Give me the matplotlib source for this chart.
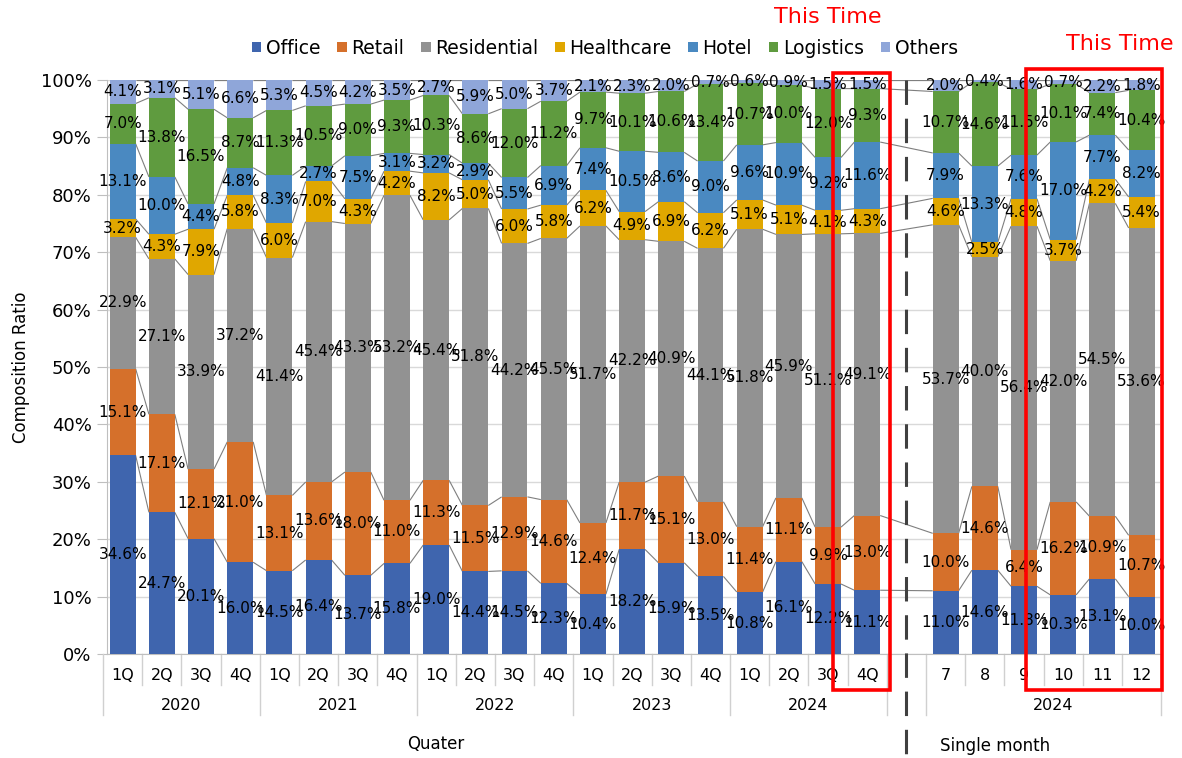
import matplotlib
matplotlib.use('Agg')
import matplotlib.pyplot as plt
import numpy as np
from matplotlib.patches import Rectangle
import matplotlib.transforms as mtrans

# ---------------- data ----------------
quarters = ['1Q', '2Q', '3Q', '4Q'] * 5
quarter_years = ['2020', '2021', '2022', '2023', '2024']
months = ['7', '8', '9', '10', '11', '12']
month_year = '2024'
series_names = ['Office', 'Retail', 'Residential', 'Healthcare', 'Hotel', 'Logistics', 'Others']
series_colors = ['#3F65AE', '#D5702B', '#929292', '#E0A700', '#4A89C1', '#5F9B3F', '#8FA6D9']

# quarterly values (2020 1Q ... 2024 4Q)
office_q = [34.6, 24.7, 20.1, 16.0, 14.5, 16.4, 13.7, 15.8, 19.0, 14.4, 14.5, 12.3, 10.4, 18.2, 15.9, 13.5, 10.8, 16.1, 12.2, 11.1]
retail_q = [15.1, 17.1, 12.1, 21.0, 13.1, 13.6, 18.0, 11.0, 11.3, 11.5, 12.9, 14.6, 12.4, 11.7, 15.1, 13.0, 11.4, 11.1, 9.9, 13.0]
residential_q = [22.9, 27.1, 33.9, 37.2, 41.4, 45.4, 43.3, 53.2, 45.4, 51.8, 44.2, 45.5, 51.7, 42.2, 40.9, 44.1, 51.8, 45.9, 51.1, 49.1]
healthcare_q = [3.2, 4.3, 7.9, 5.8, 6.0, 7.0, 4.3, 4.2, 8.2, 5.0, 6.0, 5.8, 6.2, 4.9, 6.9, 6.2, 5.1, 5.1, 4.1, 4.3]
hotel_q = [13.1, 10.0, 4.4, 4.8, 8.3, 2.7, 7.5, 3.1, 3.2, 2.9, 5.5, 6.9, 7.4, 10.5, 8.6, 9.0, 9.6, 10.9, 9.2, 11.6]
logistics_q = [7.0, 13.8, 16.5, 8.7, 11.3, 10.5, 9.0, 9.3, 10.3, 8.6, 12.0, 11.2, 9.7, 10.1, 10.6, 13.4, 10.7, 10.0, 12.0, 9.3]
others_q = [4.1, 3.1, 5.1, 6.6, 5.3, 4.5, 4.2, 3.5, 2.7, 5.9, 5.0, 3.7, 2.1, 2.3, 2.0, 0.7, 0.6, 0.9, 1.5, 1.5]

# single month values (2024 Jul ... Dec)
office_m = [11.0, 14.6, 11.8, 10.3, 13.1, 10.0]
retail_m = [10.0, 14.6, 6.4, 16.2, 10.9, 10.7]
residential_m = [53.7, 40.0, 56.4, 42.0, 54.5, 53.6]
healthcare_m = [4.6, 2.5, 4.8, 3.7, 4.2, 5.4]
hotel_m = [7.9, 13.3, 7.6, 17.0, 7.7, 8.2]
logistics_m = [10.7, 14.6, 11.5, 10.1, 7.4, 10.4]
others_m = [2.0, 0.4, 1.6, 0.7, 2.2, 1.8]

# ---------------- build ----------------
values = np.array([
    office_q + office_m,
    retail_q + retail_m,
    residential_q + residential_m,
    healthcare_q + healthcare_m,
    hotel_q + hotel_m,
    logistics_q + logistics_m,
    others_q + others_m,
], dtype=float)
heights = values / values.sum(axis=0) * 100.0

nq = len(quarters)
nm = len(months)
xpos = np.concatenate([np.arange(nq), np.arange(nm) + nq + 1]).astype(float)
gap_x = nq  # empty slot holding the dashed divider

W, H = 1182, 758
fig = plt.figure(figsize=(W / 100, H / 100), dpi=100)
ax_l, ax_r, ax_t, ax_b = 107, 1160, 80, 654
ax = fig.add_axes([ax_l / W, 1 - ax_b / H, (ax_r - ax_l) / W, (ax_b - ax_t) / H])

bw = 0.66
bottoms = np.zeros(heights.shape[1])
handles = []
for k, name in enumerate(series_names):
    bc = ax.bar(xpos, heights[k], bw, bottom=bottoms, color=series_colors[k],
                label=name, zorder=3, linewidth=0)
    handles.append(bc)
    for i, x in enumerate(xpos):
        ax.text(x, bottoms[i] + heights[k][i] / 2, f'{values[k][i]:.1f}%',
                ha='center', va='center', fontsize=11, color='black', zorder=6)
    bottoms = bottoms + heights[k]
    # series lines between adjacent bars
    for i in range(len(xpos) - 1):
        ax.plot([xpos[i] + bw / 2, xpos[i + 1] - bw / 2], [bottoms[i], bottoms[i + 1]],
                color='#7f7f7f', lw=0.8, zorder=2, solid_capstyle='butt')

ax.set_xlim(-0.4, 26.47)
ax.set_ylim(0, 100)
ax.set_yticks(np.arange(0, 101, 10))
ax.set_yticklabels([f'{v}%' for v in range(0, 101, 10)], fontsize=13)
ax.yaxis.grid(True, color='#d9d9d9', lw=1, zorder=0)
ax.set_axisbelow(True)
ax.tick_params(axis='y', length=7, color='#bfbfbf', pad=4)
ax.set_xticks([])
for s in ['top', 'right']:
    ax.spines[s].set_visible(False)
ax.spines['left'].set_color('#bfbfbf')
ax.spines['bottom'].set_color('#bfbfbf')
ax.set_ylabel('Composition Ratio', fontsize=12, labelpad=8)

# two-level category axis
tr = mtrans.blended_transform_factory(ax.transData, ax.transAxes)
axh = ax_b - ax_t
def ay(px):
    return (ax_b - px) / axh

for i, x in enumerate(xpos):
    lab = quarters[i] if i < nq else months[i - nq]
    ax.text(x, ay(675), lab, transform=tr, ha='center', va='center', fontsize=11.5, clip_on=False)
for j, yr in enumerate(quarter_years):
    ax.text(4 * j + 1.5, ay(705), yr, transform=tr, ha='center', va='center', fontsize=11.5)
ax.text(nq + 1 + (nm - 1) / 2 + 0.25, ay(705), month_year, transform=tr, ha='center', va='center', fontsize=11.5)

long_edges = [-0.5, 3.5, 7.5, 11.5, 15.5, 19.5, 20.5, 26.5]
short_edges = [e + 0.5 for e in range(0, 19) if (e + 0.5) not in long_edges] + \
              [e + 0.5 for e in range(21, 26)]
for e in long_edges:
    ax.plot([e, e], [0, ay(715)], transform=tr, color='#d0d0d0', lw=1, clip_on=False)
for e in short_edges:
    ax.plot([e, e], [0, ay(685)], transform=tr, color='#d0d0d0', lw=1, clip_on=False)

ax.text(8.0, ay(744), 'Quater', transform=tr, ha='center', va='center', fontsize=12)
ax.text(22.26, ay(746), 'Single month', transform=tr, ha='center', va='center', fontsize=12)

# dashed divider
ax.plot([gap_x, gap_x], [1.0, ay(755)], transform=tr, color='#404040', lw=2.2,
        dashes=(8, 4.5), clip_on=False, zorder=7)

# highlight boxes
ax.add_patch(Rectangle((18.12, ay(690)), 19.58 - 18.12, ay(73) - ay(690), transform=tr,
                       fill=False, ec='#FF0000', lw=2.6, clip_on=False, zorder=8))
ax.add_patch(Rectangle((23.05, ay(690)), 26.52 - 23.05, ay(69) - ay(690), transform=tr,
                       fill=False, ec='#FF0000', lw=2.6, clip_on=False, zorder=8))
ax.text(18.0, ay(17), 'This Time', transform=tr, ha='center', va='center', fontsize=16, color='#FF0000')
ax.text(25.44, ay(44), 'This Time', transform=tr, ha='center', va='center', fontsize=16, color='#FF0000')

fig.legend(handles=handles, labels=series_names, loc='center', bbox_to_anchor=(605 / W, 1 - 48 / H),
           ncol=7, frameon=False, fontsize=13.5, handlelength=0.5, handleheight=0.5,
           handletextpad=0.25, columnspacing=0.9)

fig.savefig('out.png', dpi=100)
